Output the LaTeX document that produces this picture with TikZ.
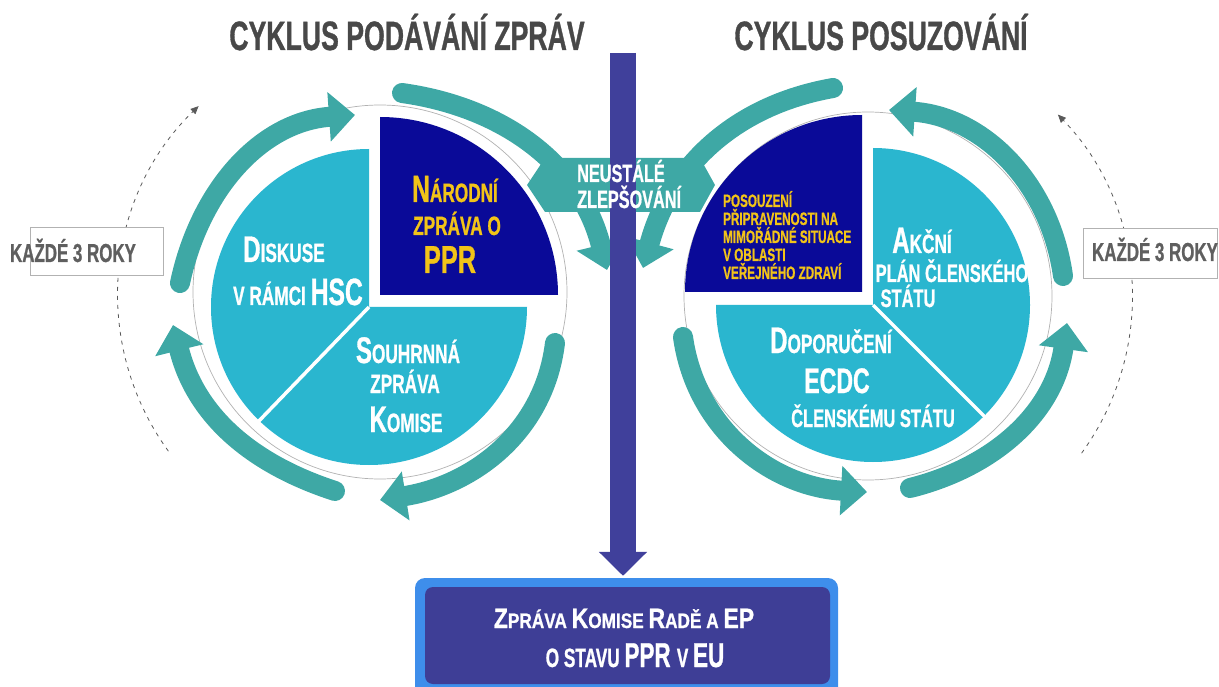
\documentclass[tikz,border=0pt]{standalone}
\usepackage{fontspec}
\usetikzlibrary{arrows.meta}
\newfontfamily\cond{Liberation Sans}[FakeStretch=0.65,FakeBold=0.8]
\newfontfamily\condW{Liberation Sans}[FakeStretch=0.82,FakeBold=0.8]
\newcommand\myfs[1]{\fontsize{#1pt}{#1pt}\selectfont}
\definecolor{arrteal}{RGB}{62,168,165}
\definecolor{lightpie}{RGB}{42,182,207}
\definecolor{darkpie}{RGB}{10,10,152}
\definecolor{yel}{RGB}{242,196,24}
\definecolor{barc}{RGB}{64,64,155}
\definecolor{boxout}{RGB}{62,142,235}
\definecolor{boxin}{RGB}{62,62,150}
\definecolor{titleg}{RGB}{72,72,72}
\definecolor{kgray}{RGB}{95,95,95}
\definecolor{dgray}{RGB}{90,90,90}
\begin{document}
\begin{tikzpicture}[x=1pt,y=1pt,
  tarr/.style={draw=arrteal, line width=20pt, line cap=round, -{Triangle[length=26pt,width=48pt]}},
  dasharc/.style={draw=dgray, line width=0.8pt, dash pattern=on 4pt off 5pt, -{Triangle[length=8pt,width=7pt]}},
  lbl/.style={inner sep=0pt, anchor=base, text=white, font=\cond\bfseries},
  ylbl/.style={inner sep=0pt, anchor=base west, text=yel, font=\cond\bfseries\myfs{18}},
  ttl/.style={inner sep=0pt, anchor=base, text=titleg, font=\cond\bfseries\myfs{41}},
  kbox/.style={draw=black!30, line width=0.8pt, fill=white},
  ktxt/.style={inner sep=0pt, anchor=base, text=kgray, font=\cond\bfseries\myfs{26}},
  ring/.style={draw=black!30, line width=0.7pt, fill=white}]
\useasboundingbox (0,0) rectangle (1219,-687);

% titles
\node[ttl] (t1) at (407,-50) {CYKLUS PODÁVÁNÍ ZPRÁV};
\node[ttl] (t2) at (881,-50) {CYKLUS POSUZOVÁNÍ};

% dashed cycle arrows
\draw[dasharc] ([shift={(216:264pt)}]382,-296) arc[start angle=216,end angle=134,radius=264pt];
\draw[dasharc] ([shift={(-36:264pt)}]868,-298) arc[start angle=-36,end angle=44,radius=264pt];

% every 3 years boxes
\draw[kbox] (30,-227) rectangle (163,-275);
\node[ktxt] (k1) at (73,-262) {KAŽDÉ 3 ROKY};
\draw[kbox] (1083,-228) rectangle (1217,-278);
\node[ktxt] (k2) at (1155,-261) {KAŽDÉ 3 ROKY};

% rings
\draw[ring] (380,-292) circle[radius=187pt];
\draw[ring] (868,-296) circle[radius=184pt];

% left pie
\fill[lightpie] (369,-307) -- ++(90:158pt) arc[start angle=90,end angle=360,radius=158pt] -- cycle;
\fill[darkpie] (380,-295) -- ++(0:178pt) arc[start angle=0,end angle=90,radius=178pt] -- cycle;
\draw[white, line width=3.5pt] (369,-307) -- ++(226:162pt);

% right pie
\fill[lightpie] (873,-305) -- ++(180:157pt) arc[start angle=180,end angle=450,radius=157pt] -- cycle;
\fill[darkpie] (862,-292) -- ++(90:177pt) arc[start angle=90,end angle=180,radius=177pt] -- cycle;
\draw[white, line width=3.5pt] (873,-305) -- ++(-45:162pt);

% teal cycle arrows, left (clockwise)
\draw[tarr] (180,-283) to[out=78,in=184] (355,-115);
\draw[tarr] (402,-93) to[out=-8,in=104] (607,-270);
\draw[tarr] (555,-343) to[out=-97,in=9] (380,-500);
\draw[tarr] (335,-491) to[out=162,in=-76] (173,-325);
% teal cycle arrows, right (counter-clockwise)
\draw[tarr] (1063,-276) to[out=98,in=-4] (889,-110);
\draw[tarr] (833,-88) to[out=190,in=75] (643,-268);
\draw[tarr] (683,-337) to[out=-82,in=177] (867,-492);
\draw[tarr] (910,-488) to[out=14,in=-98] (1067,-323);

% continuous improvement band
\fill[arrteal] (527,-185) -- (545,-158) -- (700,-158) -- (715,-185) -- (700,-212) -- (545,-212) -- cycle;

% report box and central arrow
\node[fill=boxout, rounded corners=10pt, minimum width=423pt, minimum height=124pt, inner sep=0pt] (report) at (626.5,-640) {};
\node[fill=boxin, rounded corners=8pt, minimum width=405pt, minimum height=97pt, inner sep=0pt] (reportin) at (627.5,-635.5) {};
\coordinate (bartop) at (623,-53);
\draw[barc, line width=26pt, -{Triangle[length=24pt,width=47pt]}, shorten >=2pt] (bartop) -- (bartop |- report.north);

\node[lbl, anchor=base west] (n1) at (577,-182) {\myfs{25}NEUSTÁLÉ};
\node[lbl, anchor=base west] (n2) at (577,-208) {\myfs{25}ZLEPŠOVÁNÍ};

% left pie labels
\node[lbl, text=yel] (na1) at (455,-202) {\myfs{38}N\myfs{26.5}ÁRODNÍ};
\node[lbl, text=yel] (na2) at (457,-235) {\myfs{26.5}ZPRÁVA O};
\node[lbl, text=yel] (na3) at (450,-273) {\myfs{39}PPR};
\node[lbl] (d1) at (284,-262) {\myfs{37}D\myfs{26.5}ISKUSE};
\node[lbl] (d2) at (298,-305) {\myfs{26.5}V RÁMCI \myfs{38}HSC};
\node[lbl] (s1) at (408,-363) {\myfs{37}S\myfs{26.5}OUHRNNÁ};
\node[lbl] (s2) at (405,-393) {\myfs{26.5}ZPRÁVA};
\node[lbl] (s3) at (406,-432) {\myfs{37}K\myfs{26.5}OMISE};

% right pie labels
\node[ylbl] (p1) at (723,-207) {POSOUZENÍ};
\node[ylbl] (p2) at (723,-225) {PŘIPRAVENOSTI NA};
\node[ylbl] (p3) at (723,-243) {MIMOŘÁDNÉ SITUACE};
\node[ylbl] (p4) at (723,-261) {V OBLASTI};
\node[ylbl] (p5) at (723,-279) {VEŘEJNÉHO ZDRAVÍ};
\node[lbl] (a1) at (922,-253) {\myfs{37}A\myfs{26.5}KČNÍ};
\node[lbl] (a2) at (952,-282) {\myfs{25.3}PLÁN ČLENSKÉHO};
\node[lbl] (a3) at (908,-307) {\myfs{25.3}STÁTU};
\node[lbl] (r1) at (831,-353) {\myfs{37}D\myfs{26.5}OPORUČENÍ};
\node[lbl] (r2) at (837,-393) {\myfs{35.5}ECDC};
\node[lbl] (r3) at (873,-427) {\myfs{25.3}ČLENSKÉMU STÁTU};

% report text
\node[lbl, font=\condW\bfseries] (b1) at (624,-628) {\myfs{28}Z\myfs{21}PRÁVA \myfs{28}K\myfs{21}OMISE \myfs{28}R\myfs{21}ADĚ A \myfs{28}EP};
\node[lbl] (b2) at (635,-667) {\myfs{26.5}O STAVU \myfs{34.5}PPR \myfs{26.5}V \myfs{34.5}EU};
\end{tikzpicture}
\end{document}
